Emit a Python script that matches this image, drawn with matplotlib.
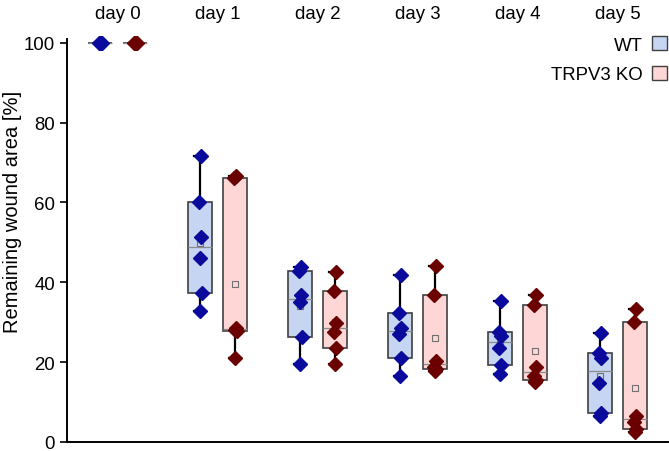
import numpy as np
import matplotlib
matplotlib.use("Agg")
import matplotlib.pyplot as plt
from matplotlib.patches import Patch

plt.rcParams["font.family"] = ["Liberation Sans", "DejaVu Sans"]

days = ["day 0", "day 1", "day 2", "day 3", "day 4", "day 5"]

wt_values = [
    [100, 100, 100, 100, 100, 100],
    [71.6, 60.1, 51.3, 46.2, 37.4, 32.9],
    [43.8, 42.8, 36.7, 35.0, 26.2, 19.5],
    [41.9, 32.3, 28.6, 27.1, 21.0, 16.6],
    [35.4, 27.5, 26.6, 23.5, 19.3, 17.0],
    [27.3, 22.3, 21.0, 14.7, 7.3, 6.6],
]

ko_values = [
    [100, 100, 100, 100, 100, 100],
    [66.5, 66.0, 28.5, 28.0, 27.8, 21.0],
    [42.7, 37.8, 29.8, 27.5, 23.6, 19.5],
    [44.1, 36.7, 20.4, 18.8, 18.3, 17.9],
    [36.8, 34.2, 18.7, 16.6, 15.4, 15.0],
    [33.3, 30.0, 6.6, 5.1, 3.3, 2.4],
]

groups = ["WT", "TRPV3 KO"]
box_colors = ["#c6d5f1", "#ffd6d6"]
dot_colors = ["#0a0a9c", "#6b0000"]


def box_stats(vals):
    # Tukey hinges, whiskers to min/max
    v = np.sort(np.asarray(vals, dtype=float))
    n = len(v)
    half = (n + 1) // 2
    lower, upper = v[:half], v[n - half:]
    return dict(med=np.median(v), q1=np.median(lower), q3=np.median(upper),
                whislo=v.min(), whishi=v.max(), mean=v.mean(), fliers=[])


fig = plt.figure(figsize=(6.69, 4.52), dpi=100)
ax = fig.add_axes([0.100, 0.020, 0.898, 0.892])

x = np.arange(len(days))
offset = 0.175
width = 0.24
jitter = np.array([0.01, -0.012, 0.006, -0.008, 0.012, -0.004])

for gi, data in enumerate([wt_values, ko_values]):
    pos = x + (gi * 2 - 1) * offset
    stats = [box_stats(d) for d in data]
    ax.bxp(stats, positions=pos, widths=width, patch_artist=True,
           showmeans=True, showfliers=False,
           boxprops=dict(facecolor=box_colors[gi], edgecolor="#404040", linewidth=1.2),
           whiskerprops=dict(color="black", linewidth=1.6),
           capprops=dict(color="black", linewidth=1.6),
           capwidths=0.12,
           medianprops=dict(color="#8c8c8c", linewidth=0.9),
           meanprops=dict(marker="s", markerfacecolor="none", markeredgecolor="#707070",
                          markersize=5, markeredgewidth=0.8),
           manage_ticks=False, zorder=2)
    for p, d in zip(pos, data):
        ax.plot(p + jitter[:len(d)], d, linestyle="none", marker="D",
                markersize=7, color=dot_colors[gi], zorder=3, clip_on=False)

ax.set_xlim(-0.51, 5.5)
ax.set_ylim(0, 101)
ax.set_yticks([0, 20, 40, 60, 80, 100])
ax.set_xticks(x)
ax.set_xticklabels(days)
ax.xaxis.tick_top()
ax.tick_params(axis="x", length=0, labelsize=13.4, pad=12)
ax.tick_params(axis="y", direction="out", length=5, width=1.2, labelsize=13.4)
for s in ["top", "right"]:
    ax.spines[s].set_visible(False)
ax.spines["left"].set_linewidth(1.4)
ax.spines["bottom"].set_linewidth(1.4)
ax.set_ylabel("Remaining wound area [%]", fontsize=14.5)
ax.yaxis.set_label_coords(-0.075, 0.573)

handles = [Patch(facecolor=box_colors[i], edgecolor="#404040", linewidth=1.0) for i in range(2)]
ax.legend(handles, groups, loc="upper right", bbox_to_anchor=(667 / 669, 1 - 37 / 452),
          bbox_transform=fig.transFigure, frameon=False, borderaxespad=0, borderpad=0,
          markerfirst=False, fontsize=13.4, handlelength=0.8, handleheight=0.8,
          handletextpad=0.5, labelspacing=0.65)

fig.savefig("out.png", dpi=100)
